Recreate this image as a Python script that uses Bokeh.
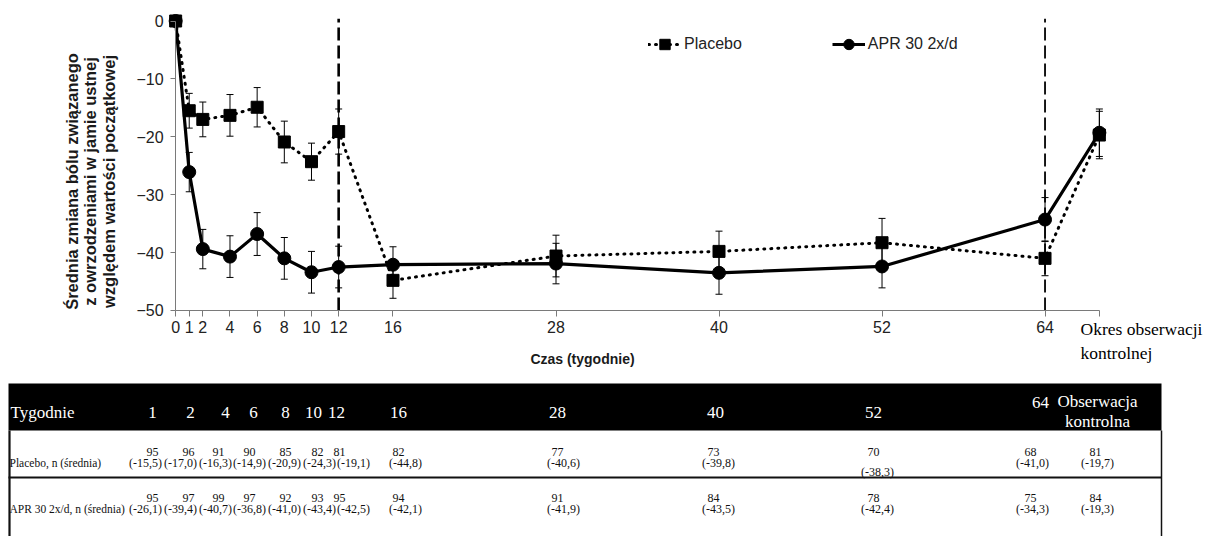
import math
from bokeh.plotting import figure
from bokeh.models import (Range1d, FixedTicker, Label, Legend, LegendItem,
                          Whisker, TeeHead, ColumnDataSource, LinearAxis)
from bokeh.embed import file_html
from bokeh.resources import INLINE
from bokeh.core.properties import value

# ---------------- data ----------------
weeks = [0, 1, 2, 4, 6, 8, 10, 12, 16, 28, 40, 52, 64, 68]   # 68 = follow-up visit
tick_weeks = [0, 1, 2, 4, 6, 8, 10, 12, 16, 28, 40, 52, 64, 68]
y_ticks = [-50, -40, -30, -20, -10, 0]
phase_ends = [12, 64]
placebo_mean = [0, -15.5, -17.0, -16.3, -14.9, -20.9, -24.3, -19.1, -44.8, -40.6, -39.8, -38.3, -41.0, -19.7]
placebo_err = [0, 3.0, 3.0, 3.6, 3.4, 3.6, 3.2, 3.9, 3.1, 3.6, 3.5, 4.2, 3.0, 4.1]
apr_mean = [0, -26.1, -39.4, -40.7, -36.8, -41.0, -43.4, -42.5, -42.1, -41.9, -43.5, -42.4, -34.3, -19.3]
apr_err = [0, 3.4, 3.4, 3.6, 3.7, 3.6, 3.6, 3.6, 3.1, 3.5, 3.7, 3.7, 3.8, 4.1]

table_cols = ["1", "2", "4", "6", "8", "10", "12", "16", "28", "40", "52", "64", "Obserwacja\nkontrolna"]
placebo_n = [95, 96, 91, 90, 85, 82, 81, 82, 77, 73, 70, 68, 81]
apr_n = [95, 97, 99, 97, 92, 93, 95, 94, 91, 84, 78, 75, 84]
row_labels = ["Placebo, n (średnia)", "APR 30 2x/d, n (średnia)"]
y_title = ["Średnia zmiana bólu związanego", "z owrzodzeniami w jamie ustnej", "względem wartości początkowej"]
x_title = "Czas (tygodnie)"
fu_title = ["Okres obserwacji", "kontrolnej"]

SANS = "Liberation Sans"
SERIF = "Liberation Serif"

# ---------------- layout (pixels on the canvas) ----------------
W, H = 1206, 536
X0, KX = 175.15, 13.584     # canvas x of week 0, px per week
Y0, KY = 20.5, 5.789        # canvas y of value 0, px per unit

def px(xp):
    return (xp - X0) / KX

def py(yp):
    return -(yp - Y0) / KY

p = figure(width=W, height=H, x_range=Range1d(px(0), px(W)), y_range=Range1d(py(H), py(0)),
           output_backend="svg", toolbar_location=None, title=None,
           x_axis_location=None, y_axis_location=None, min_border=0)
p.outline_line_color = None
p.xgrid.visible = False
p.ygrid.visible = False
p.background_fill_color = "white"
p.border_fill_color = "white"

xa = LinearAxis(fixed_location=-50, bounds=(0, 68), ticker=FixedTicker(ticks=tick_weeks),
                major_label_overrides={68: ""}, major_tick_out=6, major_tick_in=0,
                minor_tick_line_color=None, axis_line_color="#7a7a7a",
                major_tick_line_color="#7a7a7a", major_label_text_font=SANS,
                major_label_text_font_size="16px", major_label_text_color="#222222",
                major_label_standoff=5)
p.add_layout(xa, "below")
ya = LinearAxis(fixed_location=0, bounds=(-50, 0), ticker=FixedTicker(ticks=y_ticks),
                major_tick_out=5, major_tick_in=0, minor_tick_line_color=None,
                axis_line_color="#7a7a7a", major_tick_line_color="#7a7a7a",
                major_label_text_font=SANS, major_label_text_font_size="16px",
                major_label_text_color="#222222", major_label_standoff=7)
p.add_layout(ya, "left")

# phase separators
p.segment(x0=phase_ends, x1=phase_ends, y0=[-50] * 2, y1=[0.4] * 2,
          line_color="black", line_width=[2.6, 1.8], line_dash="13 5")

# error bars
def whisk_src(means, errs):
    return ColumnDataSource(dict(x=weeks[1:],
                                 upper=[m + e for m, e in zip(means[1:], errs[1:])],
                                 lower=[m - e for m, e in zip(means[1:], errs[1:])]))

for s in (whisk_src(placebo_mean, placebo_err), whisk_src(apr_mean, apr_err)):
    p.add_layout(Whisker(source=s, base="x", upper="upper", lower="lower", dimension="height",
                         line_color="black", line_width=1, level="underlay",
                         upper_head=TeeHead(size=7, line_width=1, line_color="black"),
                         lower_head=TeeHead(size=7, line_width=1, line_color="black")))

src = ColumnDataSource(dict(week=weeks, pl=placebo_mean, apr=apr_mean))
pl_line = p.line("week", "pl", source=src, line_color="black", line_width=3,
                 line_dash="1 6", line_cap="round")
pl_mark = p.scatter("week", "pl", source=src, marker="square", size=12,
                    fill_color="black", line_color="black")
apr_line = p.line("week", "apr", source=src, line_color="black", line_width=3.2)
apr_mark = p.scatter("week", "apr", source=src, marker="circle", size=13,
                     fill_color="black", line_color="black")

legend = Legend(items=[LegendItem(label="Placebo", renderers=[pl_line, pl_mark]),
                       LegendItem(label="APR 30 2x/d", renderers=[apr_line, apr_mark])],
                location=(648, H - 57), orientation="horizontal",
                glyph_width=33, glyph_height=26, label_standoff=3, spacing=90,
                padding=0, margin=0, border_line_color=None, background_fill_alpha=0,
                label_text_font=SANS, label_text_font_size="16px", label_text_color="#222222")
p.add_layout(legend, "center")

# axis titles
for i, line in enumerate(y_title):
    p.add_layout(Label(x=px(71 + 18.5 * i), y=py(181), text=line, angle=math.pi / 2,
                       text_align="center", text_baseline="middle",
                       text_font=SANS, text_font_size="16.5px", text_font_style="bold",
                       text_color="#1a1a1a"))
p.add_layout(Label(x=px(582), y=py(358), text=x_title, text_align="center",
                   text_baseline="middle", text_font=SANS, text_font_size="14px",
                   text_font_style="bold", text_color="#1a1a1a"))
for j, line in enumerate(fu_title):
    p.add_layout(Label(x=px(1080), y=py(328 + 24 * j), text=line,
                       text_align="left", text_baseline="middle", text_font=SERIF,
                       text_font_size="17.5px", text_color="black"))

# ---------------- table ----------------
T_LEFT, T_RIGHT = 8, 1161
p.quad(left=[px(T_LEFT)], right=[px(T_RIGHT)], top=[py(383)], bottom=[py(430)],
       fill_color="black", line_color=None)

head_x = [152, 190, 225, 253, 285, 313, 336, 398, 557, 715, 873, 1040, 1097]
head_y = [412] * 11 + [402, 411]
p.text(x=[px(10)], y=[py(412)], text=["Tygodnie"], text_color="white", text_font=value(SERIF),
       text_font_size="17px", text_align="left", text_baseline="middle")
p.text(x=[px(v) for v in head_x], y=[py(v) for v in head_y], text=table_cols,
       text_color="white", text_font=value(SERIF), text_font_size="17px",
       text_align="center", text_baseline="middle", text_line_height=1.1)

# borders
p.segment(x0=[px(9), px(T_RIGHT), px(T_LEFT)], x1=[px(9), px(T_RIGHT), px(T_RIGHT)],
          y0=[py(430), py(430), py(477)], y1=[py(H), py(H), py(477)],
          line_color="#111111", line_width=[2.2, 1.5, 2.2])

n_x = [152, 188, 218, 249, 285, 317, 339, 398, 557, 713, 873, 1030, 1095]
m_x = [145, 180, 215, 249, 284, 319, 353, 405, 563, 718, 877, 1032, 1097]

def fmt(v):
    return "(" + f"{v:.1f}".replace(".", ",") + ")"

row_defs = [(placebo_n, placebo_mean[1:], 451, 462), (apr_n, apr_mean[1:], 497, 508)]
for r, (ns, ms, yn, ym) in enumerate(row_defs):
    p.text(x=[px(9)], y=[py(ym)], text=[row_labels[r]], text_font=value(SERIF),
           text_font_size="11.5px", text_color="#111111", text_align="left",
           text_baseline="middle")
    p.text(x=[px(v) for v in n_x], y=[py(yn)] * len(ns), text=[str(n) for n in ns],
           text_font=value(SERIF), text_font_size="12px", text_color="#111111",
           text_align="center", text_baseline="middle")
    ym_list = [ym] * len(ms)
    if r == 0:
        ym_list[10] = ym + 9
    p.text(x=[px(v) for v in m_x], y=[py(v) for v in ym_list], text=[fmt(m) for m in ms],
           text_font=value(SERIF), text_font_size="12px", text_color="#111111",
           text_align="center", text_baseline="middle")

open("out.html", "w").write(file_html(p, INLINE))
